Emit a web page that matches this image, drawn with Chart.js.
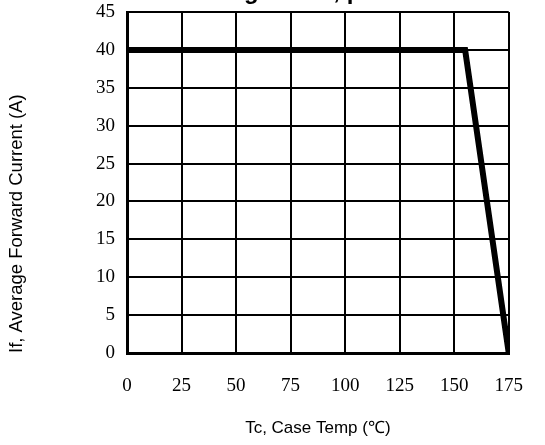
<!DOCTYPE html>
<html>
<head>
<meta charset="utf-8">
<script src="https://cdn.jsdelivr.net/npm/chart.js@4/dist/chart.umd.min.js"></script>
<style>
    html, body { margin: 0; padding: 0; background: #fff; }
    #wrap { width: 545px; height: 445px; }
</style>
</head>
<body>
<div id="wrap"><canvas id="derating" width="545" height="445"></canvas></div>
<script>
// Derating curve data
const caseTemp = [0, 155, 175];
const avgCurrent = [40, 40, 0];
const xTicks = [0, 25, 50, 75, 100, 125, 150, 175];
const yTicks = [0, 5, 10, 15, 20, 25, 30, 35, 40, 45];
const chartTitle = 'Forward Current Derating Curve, per Diode';

const serif = "'Liberation Serif', 'DejaVu Serif', serif";
const sans = "'Liberation Sans', Arial, sans-serif";

// title sits mostly above the page edge, only the descenders show
const clippedTitle = {
    id: 'clippedTitle',
    afterDraw(chart) {
        const ctx = chart.ctx;
        ctx.save();
        ctx.font = 'bold 24px ' + sans;
        ctx.fillStyle = '#000';
        ctx.textBaseline = 'alphabetic';
        const before = ctx.measureText('Forward Current Deratin').width;
        ctx.fillText(chartTitle, 244 - before, -1);
        ctx.restore();
    }
};

const points = caseTemp.map((t, i) => ({ x: t, y: avgCurrent[i] }));

new Chart(document.getElementById('derating'), {
    type: 'line',
    data: {
        datasets: [{
            data: points,
            borderColor: '#000',
            borderWidth: 6,
            pointRadius: 0,
            tension: 0,
            fill: false
        }]
    },
    options: {
        responsive: false,
        animation: false,
        layout: { padding: { top: 12, right: 36, left: 0, bottom: 0 } },
        plugins: { legend: { display: false }, tooltip: { enabled: false } },
        scales: {
            x: {
                type: 'linear',
                min: 0,
                max: 175,
                afterBuildTicks: s => { s.ticks = xTicks.map(v => ({ value: v })); },
                afterFit: s => { s.height = 92; },
                ticks: { color: '#000', font: { family: serif, size: 19 }, padding: 22, maxRotation: 0 },
                grid: { color: '#000', lineWidth: 2, drawTicks: false },
                border: { color: '#000', width: 3 },
                title: { display: true, text: 'Tc, Case Temp (℃)', color: '#000', font: { family: sans, size: 17 }, padding: 6 }
            },
            y: {
                min: 0,
                max: 45,
                afterBuildTicks: s => { s.ticks = yTicks.map(v => ({ value: v })); },
                afterFit: s => { s.width = 127; s.paddingTop = 0; s.paddingBottom = 0; },
                ticks: { color: '#000', font: { family: serif, size: 19 }, padding: 12 },
                grid: { color: '#000', lineWidth: 2, drawTicks: false },
                border: { color: '#000', width: 3 },
                title: { display: true, align: 'start', text: 'If, Average Forward Current (A)', color: '#000', font: { family: sans, size: 18.5 }, padding: 6 }
            }
        }
    },
    plugins: [clippedTitle]
});
</script>
</body>
</html>
